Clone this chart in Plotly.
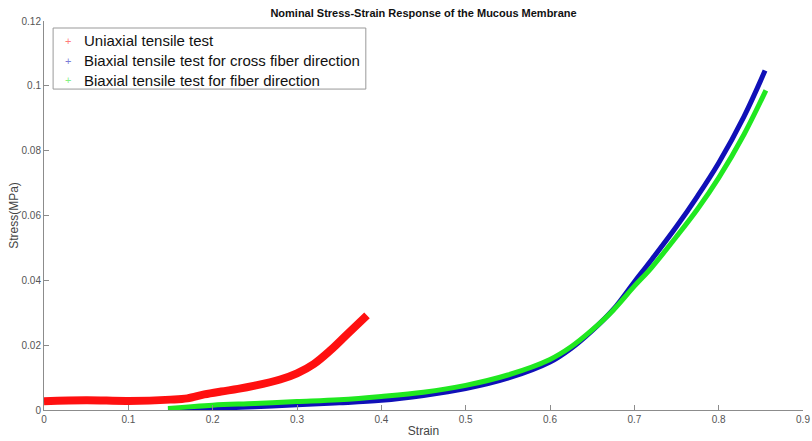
import plotly.graph_objects as go

# Uniaxial tensile test (red)
uni_strain = [0.0, 0.05, 0.1, 0.15, 0.17, 0.19, 0.21, 0.23, 0.25, 0.28, 0.3, 0.32, 0.34, 0.36, 0.383]
uni_stress = [0.0027, 0.0030, 0.0028, 0.0032, 0.0036, 0.0048, 0.0057, 0.0065, 0.0075, 0.0094, 0.0113, 0.0142, 0.0185, 0.0235, 0.0292]

# Biaxial, cross fiber direction (blue)
cross_strain = [0.147, 0.2, 0.25, 0.3, 0.35, 0.4, 0.45, 0.5, 0.55, 0.6, 0.625, 0.65, 0.675, 0.7, 0.72, 0.75, 0.775, 0.8, 0.83, 0.855]
cross_stress = [0.0, 0.0005, 0.001, 0.0016, 0.0022, 0.003, 0.0045, 0.0066, 0.0098, 0.0148, 0.019, 0.0245, 0.031, 0.0395, 0.0462, 0.0566, 0.066, 0.0762, 0.0905, 0.1047]

# Biaxial, fiber direction (green)
fiber_strain = [0.147, 0.2, 0.25, 0.3, 0.35, 0.4, 0.45, 0.5, 0.55, 0.6, 0.625, 0.65, 0.675, 0.7, 0.72, 0.75, 0.775, 0.8, 0.83, 0.856]
fiber_stress = [0.0005, 0.0015, 0.002, 0.0026, 0.0032, 0.0042, 0.0055, 0.0076, 0.0108, 0.0156, 0.0195, 0.0247, 0.0308, 0.0382, 0.0438, 0.0535, 0.062, 0.0716, 0.085, 0.0986]

x_ticks = [0, 0.1, 0.2, 0.3, 0.4, 0.5, 0.6, 0.7, 0.8, 0.9]
x_tick_text = ["0", "0.1", "0.2", "0.3", "0.4", "0.5", "0.6", "0.7", "0.8", "0.9"]
y_ticks = [0, 0.02, 0.04, 0.06, 0.08, 0.1, 0.12]
y_tick_text = ["0", "0.02", "0.04", "0.06", "0.08", "0.1", "0.12"]

names = ["Uniaxial tensile test",
         "Biaxial tensile test for cross fiber direction",
         "Biaxial tensile test for fiber direction"]
colors = ["#ff1010", "#1010b8", "#20e820"]

FONT = "Arial, Liberation Sans, Helvetica, sans-serif"
AX = "#8c8c8c"

fig = go.Figure()
series = [(uni_strain, uni_stress, 8), (cross_strain, cross_stress, 5), (fiber_strain, fiber_stress, 5)]
for (xs, ys, w), name, c in zip(series, names, colors):
    fig.add_trace(go.Scatter(x=xs, y=ys, mode="lines", line=dict(color=c, width=w, shape="spline", smoothing=1.0),
                             showlegend=False, hoverinfo="skip", name=name))

# Legend (MATLAB style): box, '+' markers and labels
leg_x0, leg_x1, leg_y0, leg_y1 = 0.012, 0.424, 0.825, 0.982
row_y = [0.9486, 0.8972, 0.8483]
fig.add_shape(type="rect", xref="paper", yref="paper", x0=leg_x0, x1=leg_x1, y0=leg_y0, y1=leg_y1,
              line=dict(color="#999999", width=1), fillcolor="white", layer="above")
for name, c, ry in zip(names, colors, row_y):
    fig.add_annotation(x=0.0315, y=ry, xref="paper", yref="paper", text="+", showarrow=False,
                       font=dict(size=11, color=c, family=FONT), opacity=0.55, xanchor="center", yanchor="middle")
    fig.add_annotation(x=0.0500, y=ry, xref="paper", yref="paper", text=name, showarrow=False,
                       font=dict(size=15, color="#111111", family=FONT), xanchor="left", yanchor="middle")

fig.update_layout(
    width=812, height=441,
    margin=dict(l=44, r=9, t=21, b=31, autoexpand=False),
    paper_bgcolor="white", plot_bgcolor="white",
    font=dict(family=FONT, color="#404040", size=10),
    title=dict(text="<b>Nominal Stress-Strain Response of the Mucous Membrane</b>",
               x=0.5, xref="paper", y=0.9695, yref="container", xanchor="center", yanchor="middle",
               font=dict(size=11, color="#111111", family=FONT)),
    showlegend=False,
)
fig.update_xaxes(range=[0, 0.9], tickvals=x_ticks, ticktext=x_tick_text, automargin=False,
                 showline=True, linecolor=AX, linewidth=1, mirror=False,
                 ticks="inside", ticklen=5, tickcolor=AX, showgrid=False, zeroline=False,
                 tickfont=dict(size=10, color="#555555"),
                 title=dict(text="Strain", font=dict(size=12, color="#444444"), standoff=2))
fig.update_yaxes(range=[0, 0.12], tickvals=y_ticks, ticktext=y_tick_text, automargin=False,
                 showline=True, linecolor=AX, linewidth=1, mirror=False,
                 ticks="inside", ticklen=5, tickcolor=AX, showgrid=False, zeroline=False,
                 tickfont=dict(size=10, color="#555555"),
                 title=dict(text="Stress(MPa)", font=dict(size=12, color="#444444"), standoff=0))

# remove the browser's default 8px page margin so the figure fills the window exactly
fig.write_html("out.html", config={"displayModeBar": False},
               post_script="document.body.style.margin='0';document.body.style.overflow='hidden';")
